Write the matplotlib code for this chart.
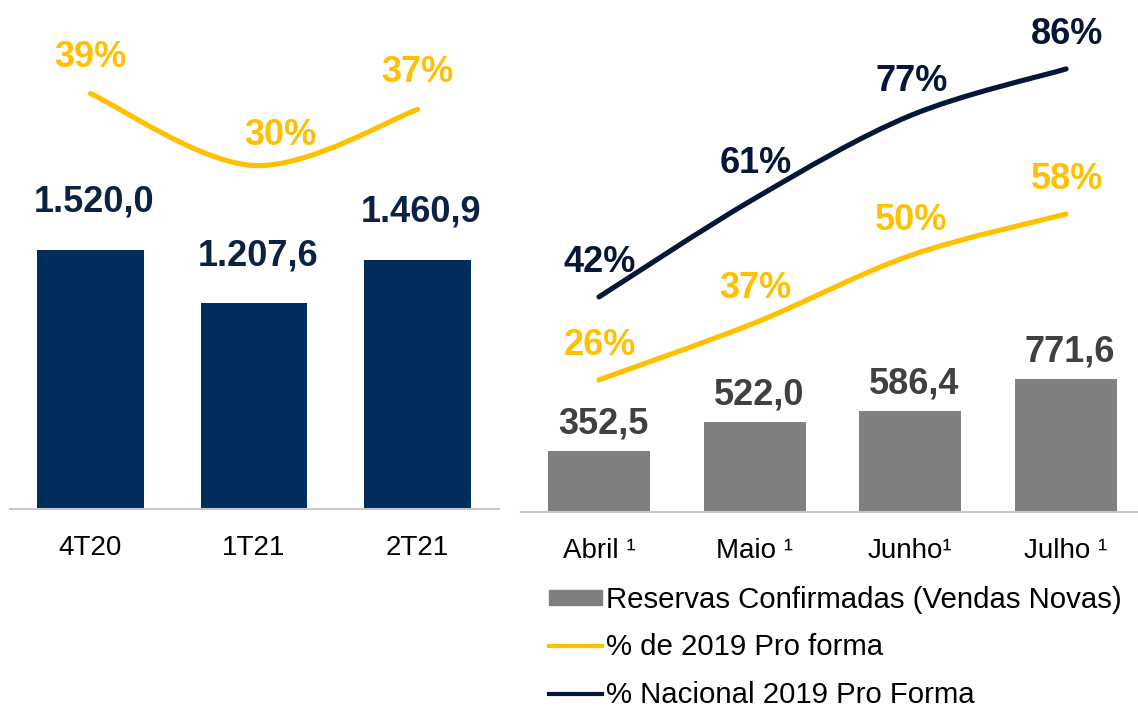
import numpy as np
import matplotlib
matplotlib.use("Agg")
import matplotlib.pyplot as plt
from matplotlib.path import Path
from matplotlib.patches import PathPatch, Patch
from matplotlib.lines import Line2D

plt.rcParams['font.family'] = ['Liberation Sans', 'DejaVu Sans']

# dados
trimestres = ['4T20', '1T21', '2T21']
vendas_tri = [1520.0, 1207.6, 1460.9]
pct_tri = [39, 30, 37]

meses = ['Abril ¹', 'Maio ¹', 'Junho¹', 'Julho ¹']
reservas = [352.5, 522.0, 586.4, 771.6]
pct_2019 = [26, 37, 50, 58]
pct_nacional = [42, 61, 77, 86]

NAVY_BAR = '#002D5C'
NAVY = '#061638'
YELLOW = '#FFC000'
GRAY = '#7F7F7F'
AXIS_GRAY = '#C8C8C8'


def br(v):
    return f"{v:,.1f}".replace(",", "X").replace(".", ",").replace("X", ".")


def smooth(ax, xs, ys, **kw):
    # curva suavizada estilo Excel, feita em coordenadas de tela
    pts = ax.transData.transform(np.column_stack([xs, ys]))
    n = len(pts)
    verts = [pts[0]]
    codes = [Path.MOVETO]
    for i in range(n - 1):
        p0 = pts[i - 1] if i > 0 else pts[i]
        p1, p2 = pts[i], pts[i + 1]
        p3 = pts[i + 2] if i + 2 < n else pts[i + 1]
        verts += [p1 + (p2 - p0) / 6, p2 - (p3 - p1) / 6, p2]
        codes += [Path.CURVE4] * 3
    verts = ax.transData.inverted().transform(np.array(verts))
    ax.add_patch(PathPatch(Path(verts, codes), fill=False, capstyle='round', **kw))


def clean(ax):
    for s in ax.spines.values():
        s.set_visible(False)
    ax.set_yticks([])


W, H = 1138, 708
fig = plt.figure(figsize=(W / 100, H / 100), dpi=100)

# painel esquerdo
axL = fig.add_axes([10 / W, 1 - 509 / H, 489 / W, 509 / H])
axL2 = axL.twinx()
axL2.set_position(axL.get_position())
x = np.arange(len(trimestres))
axL.bar(x, vendas_tri, width=0.654, color=NAVY_BAR)
axL.set_xlim(-0.492, 2.498)
axL.set_ylim(0, 2986)
axL2.set_ylim(-12.94, 50.69)
for ax in (axL, axL2):
    clean(ax)
axL.spines['bottom'].set_visible(True)
axL.spines['bottom'].set_color(AXIS_GRAY)
axL.spines['bottom'].set_linewidth(1.5)
axL.set_xticks(x, trimestres, fontsize=20)
axL.tick_params(axis='x', length=0, pad=18.5)

for xi, v in zip(x, vendas_tri):
    axL.annotate(br(v), (xi, v), xytext=(4, 38), textcoords='offset pixels',
                 ha='center', va='baseline', fontsize=26, fontweight='bold', color='#0B2245')

smooth(axL2, x, pct_tri, color=YELLOW, linewidth=3.7)
offL = [(0, 26.5), (26, 20.5), (0, 27.5)]
for xi, p, off in zip(x, pct_tri, offL):
    axL2.annotate(f"{p}%", (xi, p), xytext=off, textcoords='offset pixels',
                  ha='center', va='baseline', fontsize=26, fontweight='bold', color=YELLOW)

# painel direito
axR = fig.add_axes([521 / W, 1 - 512 / H, 617 / W, 512 / H])
axR2 = axR.twinx()
axR2.set_position(axR.get_position())
xm = np.arange(len(meses))
axR.bar(xm, reservas, width=0.655, color=GRAY)
axR.set_xlim(-0.501, 3.462)
axR.set_ylim(0, 2980)
axR2.set_ylim(0.5, 99.3)
for ax in (axR, axR2):
    clean(ax)
axR.spines['bottom'].set_visible(True)
axR.spines['bottom'].set_color(AXIS_GRAY)
axR.spines['bottom'].set_linewidth(1.5)
axR.set_xticks(xm, meses, fontsize=20)
axR.tick_params(axis='x', length=0, pad=18.5)

for xi, v in zip(xm, reservas):
    axR.annotate(br(v), (xi, v), xytext=(4, 18), textcoords='offset pixels',
                 ha='center', va='baseline', fontsize=26, fontweight='bold', color='#404040')

smooth(axR2, xm, pct_2019, color=YELLOW, linewidth=3.7)
smooth(axR2, xm, pct_nacional, color=NAVY, linewidth=3.7)
for xi, p in zip(xm, pct_2019):
    axR2.annotate(f"{p}%", (xi, p), xytext=(1, 25), textcoords='offset pixels',
                  ha='center', va='baseline', fontsize=26, fontweight='bold', color=YELLOW)
for xi, p in zip(xm, pct_nacional):
    axR2.annotate(f"{p}%", (xi, p), xytext=(1, 25), textcoords='offset pixels',
                  ha='center', va='baseline', fontsize=26, fontweight='bold', color=NAVY)

handles = [Patch(color=GRAY), Line2D([], [], color=YELLOW, lw=3), Line2D([], [], color=NAVY, lw=3)]
labels = ['Reservas Confirmadas (Vendas Novas)', '% de 2019 Pro forma', '% Nacional 2019 Pro Forma']
fig.legend(handles, labels, loc='upper left', bbox_to_anchor=(549 / W, 1 - 586 / H),
           frameon=False, fontsize=21.2, handlelength=1.8, handleheight=0.45,
           handletextpad=0.15, labelspacing=0.66, borderpad=0, borderaxespad=0)

fig.savefig('out.png', dpi=100)
